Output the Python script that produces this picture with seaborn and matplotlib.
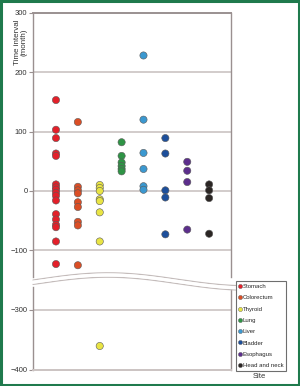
import numpy as np
import pandas as pd
import matplotlib
matplotlib.use("Agg")
import matplotlib.pyplot as plt
from matplotlib.lines import Line2D
from matplotlib.patches import Rectangle
import seaborn as sns

sites = ["Stomach", "Colorectum", "Thyroid", "Lung", "Liver", "Bladder", "Esophagus", "Head and neck"]
stomach = [153, 103, 89, 63, 59, 11, 6, 2, -3, -8, -16, -39, -48, -57, -61, -85, -123]
colorectum = [116, 7, 1, -4, -19, -27, -52, -58, -125]
thyroid = [10, 5, 0, -14, -17, -36, -85, -360]
lung = [82, 59, 48, 42, 37, 33]
liver = [228, 120, 64, 37, 8, 2]
bladder = [89, 63, 1, -11, -73]
esophagus = [49, 34, 15, -65]
head_neck = [11, 1, -12, -72]
colors = ["#e3202a", "#db4e25", "#e9e444", "#2e9445", "#3b98d0", "#1d4f9b", "#5c2e8c", "#2b2624"]
upper_ticks = [300, 200, 100, 0, -100]
lower_ticks = [-300, -400]

values = [stomach, colorectum, thyroid, lung, liver, bladder, esophagus, head_neck]
df = pd.DataFrame({"site": [s for s, v in zip(sites, values) for _ in v],
                   "months": [x for v in values for x in v]})
palette = dict(zip(sites, colors))

sns.set_theme(style="white")
plt.rcParams["font.family"] = ["Liberation Sans", "DejaVu Sans"]

W, H = 300, 386
fig = plt.figure(figsize=(3.0, 3.86), dpi=100)
x0, x1 = 33 / W, 231 / W
ax1 = fig.add_axes([x0, 1 - 277 / H, x1 - x0, (277 - 12.7) / H])
ax2 = fig.add_axes([x0, 1 - 370 / H, x1 - x0, (370 - 287) / H])

grid_c = "#cbc3c2"
for ax in (ax1, ax2):
    sns.stripplot(data=df, x="site", y="months", hue="site", order=sites, hue_order=sites,
                  palette=palette, jitter=False, size=5.2, linewidth=0.4, edgecolor="#5a5a5a",
                  legend=False, ax=ax, zorder=3)
    ax.set_xlim(-1.05, 8.0)
    ax.set_xlabel("")
    ax.set_ylabel("")
    ax.set_xticks([])
    ax.tick_params(axis="y", which="both", left=True, length=3, width=0.8, color="#9a9090",
                   labelsize=5.5, pad=1, labelcolor="#333333")
    for sp in ax.spines.values():
        sp.set_color("#9a9090")
        sp.set_linewidth(1.0)

ax1.set_ylim(-144.8, 300)
ax1.set_yticks(upper_ticks)
ax1.set_yticklabels([str(t).replace("-", "\u2212") for t in upper_ticks])
ax2.set_ylim(-400, -261.7)
ax2.set_yticks(lower_ticks)
ax2.set_yticklabels([str(t).replace("-", "\u2212") for t in lower_ticks])

for t in upper_ticks[1:]:
    ax1.axhline(t, color=grid_c, lw=1.2, zorder=1)
ax2.axhline(-300, color=grid_c, lw=1.2, zorder=1)
ax1.spines["bottom"].set_visible(False)
ax2.spines["top"].set_visible(False)
ax2.spines["bottom"].set_color(grid_c)
ax2.spines["bottom"].set_linewidth(1.4)
ax1.spines["top"].set_linewidth(1.4)

# wavy break
xs = np.linspace(33, 243, 200)
base = 281.5 - 6.5 * np.sin((xs - 33 - 5) / 140 * np.pi)
fx = xs / W
for off in (-2.2, 2.2):
    fig.add_artist(Line2D(fx, 1 - (base + off) / H, color="#c4bcbb", lw=0.9))
fig.patches.append(plt.Polygon(np.column_stack([np.r_[fx, fx[::-1]],
                                                np.r_[1 - (base - 1.6) / H, 1 - (base[::-1] + 1.6) / H]]),
                               closed=True, transform=fig.transFigure, facecolor="white",
                               edgecolor="none", zorder=5))

fig.text(21 / W, 1 - 42 / H, "Time interval\n(month)", rotation=90, ha="center", va="center",
         fontsize=5.8, color="#333333", linespacing=1.0)

handles = [Line2D([], [], marker="o", ls="none", markersize=3, markerfacecolor=c,
                  markeredgecolor="#5a5a5a", markeredgewidth=0.3) for c in colors]
leg = fig.legend(handles, sites, loc="upper left", bbox_to_anchor=(236 / W, 1 - 281 / H),
                 fontsize=4.3, frameon=True, fancybox=False, handlelength=0.4, handletextpad=0.2,
                 labelspacing=1.02, borderpad=0.5, borderaxespad=0, edgecolor="#6e6e6e",
                 framealpha=1)
leg.get_frame().set_linewidth(0.8)
fig.text(259 / W, 1 - 376 / H, "Site", ha="center", va="center", fontsize=5.5, color="#333333")

fig.patches.append(Rectangle((0.003, 0.003), 0.994, 0.994, transform=fig.transFigure,
                             fill=False, edgecolor="#1f7a4d", lw=2.2, zorder=10))

fig.savefig("out.png", dpi=100)
